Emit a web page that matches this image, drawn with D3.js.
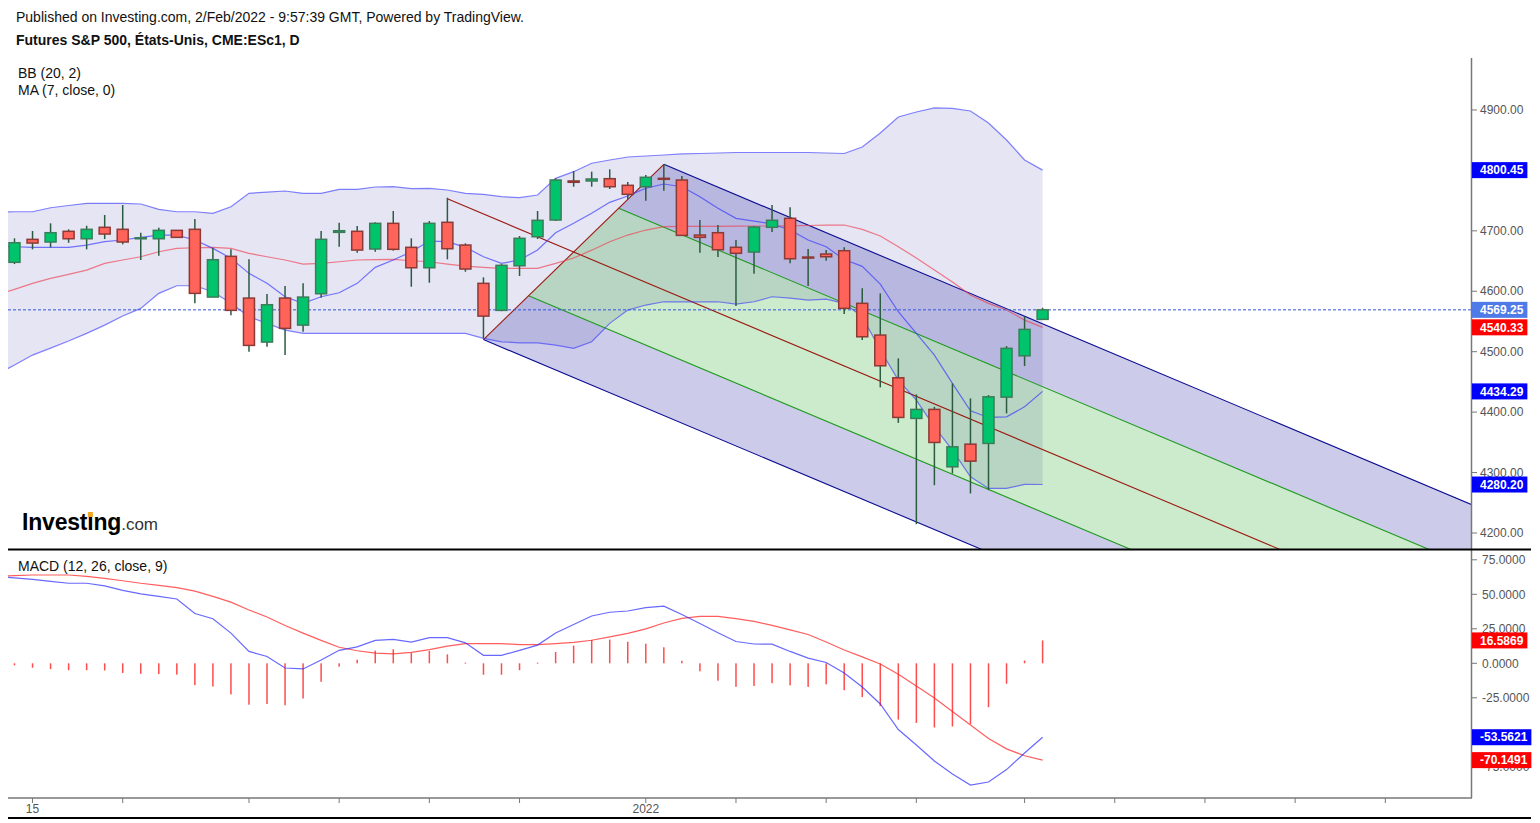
<!DOCTYPE html>
<html>
<head>
<meta charset="utf-8">
<script src="https://cdn.jsdelivr.net/npm/d3@7"></script>
<style>
  body { margin: 0; background: #fff; }
  svg { display: block; font-family: "Liberation Sans", Arial, sans-serif; }
</style>
</head>
<body>
<div id="chart"></div>
<script>
// daily bars, bar 0 = first visible candle
const opens  = [4647.9,4685.9,4681.5,4699.2,4686.9,4705.8,4702.5,4687.5,4686.9,4700.8,4702.5,4590.4,4657.8,4588.7,4515.9,4588.7,4544.0,4595.9,4697.5,4699.2,4669.9,4712.4,4672.7,4638.9,4714.1,4676.5,4613.1,4568.4,4642.2,4690.2,4717.9,4782.5,4782.5,4786.3,4775.3,4773.0,4786.9,4784.1,4693.0,4696.9,4672.7,4664.9,4705.8,4720.7,4656.6,4661.6,4667.1,4580.0,4527.5,4456.8,4389.6,4404.5,4309.5,4347.0,4348.2,4424.8,4493.2,4553.5];
const highs  = [4687.6,4699.7,4712.4,4702.5,4708.4,4726.2,4742.7,4696.9,4705.1,4701.5,4719.5,4672.0,4669.4,4652.8,4595.4,4608.6,4613.1,4699.7,4713.4,4708.0,4714.1,4732.8,4687.6,4716.2,4754.8,4679.3,4623.0,4645.0,4691.4,4732.8,4786.9,4799.0,4797.9,4801.8,4780.8,4792.4,4810.6,4790.7,4717.9,4709.6,4684.8,4708.0,4742.7,4738.9,4669.9,4668.2,4672.7,4604.8,4596.5,4488.9,4429.3,4408.8,4447.5,4422.7,4428.2,4509.3,4557.8,4572.7];
const lows   = [4645.0,4669.4,4672.7,4680.3,4669.4,4686.4,4677.6,4651.7,4658.8,4689.0,4580.0,4590.0,4560.1,4499.8,4508.1,4494.4,4533.0,4589.2,4673.7,4663.7,4665.4,4667.1,4607.5,4614.1,4652.8,4632.3,4522.0,4567.0,4625.2,4686.4,4716.2,4773.0,4773.0,4769.2,4752.2,4749.8,4766.4,4692.0,4663.7,4656.6,4575.5,4629.0,4698.0,4646.2,4608.6,4650.5,4562.3,4519.2,4440.9,4382.3,4214.6,4279.1,4298.5,4265.4,4270.9,4397.9,4476.2,4553.0];
const closes = [4680.3,4679.8,4696.9,4686.9,4702.5,4694.7,4681.5,4688.5,4700.8,4689.2,4596.5,4652.2,4568.4,4510.4,4577.7,4538.6,4590.4,4685.9,4700.2,4668.2,4712.4,4669.4,4638.9,4712.4,4670.4,4636.8,4558.9,4642.9,4687.6,4717.4,4784.1,4780.3,4785.8,4773.0,4760.4,4788.6,4785.3,4692.5,4689.2,4668.7,4662.8,4706.3,4717.4,4653.8,4655.9,4657.1,4571.7,4524.7,4476.7,4391.2,4404.5,4349.8,4342.6,4318.9,4425.3,4505.5,4536.9,4569.25];

// indicator series start one bar before the first candle (partly off the left edge)
const indStart = -1;
const bbUpper = [4731.0,4731.6,4731.6,4738.2,4741.9,4745.5,4745.5,4745.5,4744.4,4735.6,4731.6,4731.6,4729.0,4739.9,4762.1,4764.2,4765.9,4762.1,4762.1,4768.7,4768.7,4772.5,4773.0,4770.0,4770.4,4767.6,4762.1,4760.4,4756.5,4754.8,4759.3,4786.9,4797.9,4811.8,4817.2,4822.2,4823.8,4825.5,4827.2,4828.0,4828.8,4829.6,4829.6,4829.6,4829.6,4829.6,4828.8,4828.0,4838.7,4861.9,4888.4,4896.7,4903.3,4902.5,4898.3,4878.5,4850.3,4817.2,4800.45];
const bbBasis = [4593.7,4603.1,4613.1,4621.4,4628.0,4635.1,4646.2,4651.7,4657.1,4665.4,4671.0,4672.0,4672.7,4671.0,4662.8,4657.1,4651.7,4645.0,4646.2,4648.8,4651.7,4652.2,4652.8,4650.5,4648.8,4645.0,4641.7,4639.6,4637.9,4637.9,4637.9,4646.2,4655.0,4668.0,4682.0,4693.0,4701.3,4707.1,4707.5,4707.5,4707.5,4707.8,4708.0,4708.0,4708.3,4708.8,4709.6,4709.6,4702.5,4691.4,4673.7,4655.0,4635.1,4615.2,4593.7,4580.0,4568.9,4552.3,4540.33];
const bbLower = [4462.0,4478.0,4494.4,4506.0,4517.6,4530.3,4544.0,4559.0,4571.7,4596.5,4609.1,4609.1,4599.2,4580.0,4557.8,4546.9,4535.8,4530.3,4530.3,4530.3,4530.3,4530.3,4530.3,4530.3,4530.3,4530.3,4530.3,4522.0,4516.4,4514.7,4514.7,4510.9,4505.5,4516.4,4546.9,4568.9,4577.2,4582.6,4582.6,4582.6,4582.6,4578.8,4582.6,4590.9,4588.7,4585.4,4587.1,4580.0,4557.8,4502.7,4453.0,4419.9,4375.7,4337.1,4292.9,4273.7,4273.7,4280.3,4280.20];
const ma7 = [4674.0,4673.7,4672.7,4672.7,4672.7,4676.5,4682.0,4684.8,4689.2,4693.0,4693.0,4684.8,4671.0,4654.5,4629.6,4613.1,4590.9,4580.0,4590.9,4597.5,4613.1,4639.6,4651.7,4665.4,4683.1,4682.0,4672.7,4657.1,4646.2,4651.7,4668.2,4696.9,4712.4,4729.0,4747.2,4757.6,4770.4,4777.5,4773.0,4756.5,4737.3,4720.7,4716.2,4711.3,4701.3,4684.8,4673.7,4652.5,4641.2,4611.9,4566.1,4530.3,4494.4,4447.5,4402.2,4391.2,4392.2,4408.8,4434.29];

const macdLine = [62.8,61.9,60.8,59.3,58.0,58.0,56.1,52.8,50.3,48.5,46.6,36.1,32.3,21.9,8.6,4.9,-3.4,-4.1,2.4,9.4,11.9,16.6,17.4,15.3,18.6,18.6,14.8,5.8,5.8,9.4,13.2,22.0,28.1,34.3,37.0,37.9,40.4,41.4,35.4,28.8,22.1,15.8,14.0,13.9,8.6,3.8,0.6,-7.0,-17.2,-29.5,-48.0,-59.2,-70.8,-80.2,-88.2,-86.0,-77.0,-65.0,-53.5621];
const macdSignal = [63.2,63.5,64.0,64.0,64.0,63.0,61.5,59.8,58.0,56.5,54.8,52.3,48.5,44.3,38.6,33.6,27.4,21.9,16.6,11.6,9.1,7.4,6.9,7.9,9.9,12.4,14.3,14.3,14.3,13.6,13.5,14.3,15.1,16.7,19.1,21.7,24.9,29.2,32.6,34.0,34.0,32.4,30.4,27.5,24.2,20.9,15.4,9.6,4.7,-0.5,-8.0,-16.4,-25.1,-34.9,-44.7,-54.5,-62.0,-67.0,-70.1491];
// histogram starts at bar 0
const macdHist = [-1.5,-3.2,-4.2,-5.0,-5.0,-5.2,-7.0,-7.6,-7.8,-8.2,-15.8,-16.8,-22.5,-30.0,-29.5,-30.4,-25.5,-13.4,-2.4,2.6,9.2,10.2,7.5,9.0,6.5,0.5,-8.3,-8.3,-5.0,0.5,8.2,12.8,17.0,17.2,15.6,14.2,11.6,1.8,-5.8,-12.6,-17.0,-16.4,-14.4,-16.0,-17.1,-15.2,-19.5,-24.5,-31.0,-40.8,-43.2,-46.5,-45.8,-44.0,-31.8,-14.8,2.0,16.5869];

const priceTicks = [4200, 4300, 4400, 4500, 4600, 4700, 4800, 4900];
const macdTicks = [75, 50, 25, 0, -25, -50, -75];
// -50 label sits fully under the MACD value badge in the reference, so it gets no text
const macdTickShown = [true, true, true, true, true, false, true];
const xTickBars = [1, 6, 13, 18, 23, 28, 35, 40, 45, 50, 56, 61, 66, 71, 76];
const xTickLabels = ["15", "", "", "", "", "", "2022", "", "", "", "", "", "", "", ""];

// Andrews pitchfork anchors (bar, price)
const pitchforkPts = [{bar: 24, price: 4753}, {bar: 26, price: 4520}, {bar: 36, price: 4810}];

const width = 1540, height = 823;
const plotLeft = 8, plotRight = 1471;
const mainTop = 58, mainBottom = 549;
const macdTop = 551, macdBottom = 798;

const svg = d3.select('#chart').append('svg')
  .attr('width', width)
  .attr('height', height);

const x = d3.scaleLinear().domain([-0.36, 80.75]).range([plotLeft, plotRight]);
const y = d3.scaleLinear().domain([4173.5, 4986]).range([mainBottom, mainTop]);
const ym = d3.scaleLinear().domain([-97.6, 82.1]).range([macdBottom, macdTop - 1]);

const defs = svg.append('defs');
defs.append('clipPath').attr('id', 'clipMain').append('rect')
  .attr('x', plotLeft).attr('y', mainTop).attr('width', plotRight - plotLeft).attr('height', mainBottom - mainTop);
defs.append('clipPath').attr('id', 'clipMacd').append('rect')
  .attr('x', plotLeft).attr('y', macdTop).attr('width', plotRight - plotLeft).attr('height', macdBottom - macdTop);

const main = svg.append('g').attr('clip-path', 'url(#clipMain)');

// Bollinger fill
const bbArea = d3.area()
  .x((d, i) => x(i + indStart))
  .y0((d, i) => y(bbLower[i]))
  .y1(d => y(d));
main.append('path')
  .datum(bbUpper)
  .attr('d', bbArea)
  .attr('fill', 'rgba(40,40,160,0.12)');

// pitchfork, built in pixel space from its three anchors
const [p1, p2, p3] = pitchforkPts.map(p => [x(p.bar), y(p.price)]);
const mid = [(p2[0] + p3[0]) / 2, (p2[1] + p3[1]) / 2];
const dir = [mid[0] - p1[0], mid[1] - p1[1]];
const reach = pt => {
  const t = (plotRight + 40 - pt[0]) / dir[0];
  return [pt[0] + t * dir[0], pt[1] + t * dir[1]];
};
const onBase = f => [p2[0] + f * (p3[0] - p2[0]), p2[1] + f * (p3[1] - p2[1])];

const bands = [
  {f0: 0, f1: 0.25, fill: 'rgba(0,0,150,0.2)'},
  {f0: 0.25, f1: 0.75, fill: 'rgba(0,150,0,0.2)'},
  {f0: 0.75, f1: 1, fill: 'rgba(0,0,150,0.2)'}
];
main.append('g').selectAll('path')
  .data(bands)
  .enter().append('path')
  .attr('d', d => {
    const a = onBase(d.f0), b = onBase(d.f1);
    return 'M' + [a, b, reach(b), reach(a)].map(p => p.join(',')).join('L') + 'Z';
  })
  .attr('fill', d => d.fill);

const forkLines = [
  {from: onBase(0), color: '#0a0a90'},
  {from: onBase(0.25), color: '#1f9a1f'},
  {from: onBase(0.75), color: '#1f9a1f'},
  {from: onBase(1), color: '#0a0a90'},
  {from: p1, color: '#9a1a10'}
];
main.append('g').selectAll('line')
  .data(forkLines)
  .enter().append('line')
  .attr('x1', d => d.from[0]).attr('y1', d => d.from[1])
  .attr('x2', d => reach(d.from)[0]).attr('y2', d => reach(d.from)[1])
  .attr('stroke', d => d.color)
  .attr('stroke-width', 1.1);
main.append('line')
  .attr('x1', p2[0]).attr('y1', p2[1]).attr('x2', p3[0]).attr('y2', p3[1])
  .attr('stroke', '#9a1a10').attr('stroke-width', 1.1);

// indicator lines
const indLine = d3.line().x((d, i) => x(i + indStart)).y(d => y(d));
[
  {data: bbUpper, color: 'rgba(50,50,255,0.6)'},
  {data: bbLower, color: 'rgba(50,50,255,0.6)'},
  {data: bbBasis, color: 'rgba(240,60,80,0.65)'},
  {data: ma7, color: 'rgba(50,50,255,0.65)'}
].forEach(s => {
  main.append('path')
    .datum(s.data)
    .attr('d', indLine)
    .attr('fill', 'none')
    .attr('stroke', s.color)
    .attr('stroke-width', 1.2);
});

// last price line
main.append('line')
  .attr('x1', plotLeft).attr('x2', plotRight)
  .attr('y1', y(closes[closes.length - 1])).attr('y2', y(closes[closes.length - 1]))
  .attr('stroke', '#3355dd')
  .attr('stroke-dasharray', '3,2')
  .attr('stroke-width', 1);

// candles
const bars = d3.range(opens.length).map(i => ({i, o: opens[i], h: highs[i], l: lows[i], c: closes[i]}));
const candle = main.append('g').selectAll('.candle')
  .data(bars)
  .enter().append('g')
  .attr('class', 'candle');

candle.append('line')
  .attr('x1', d => x(d.i)).attr('x2', d => x(d.i))
  .attr('y1', d => y(d.h)).attr('y2', d => y(d.l))
  .attr('stroke', '#2b5c40')
  .attr('stroke-width', 1.5);

candle.append('rect')
  .attr('x', d => x(d.i) - 5.5)
  .attr('width', 11)
  .attr('y', d => y(Math.max(d.o, d.c)))
  .attr('height', d => Math.max(1, Math.abs(y(d.o) - y(d.c))))
  .attr('fill', d => d.c >= d.o ? '#00c46b' : '#ff6359')
  .attr('stroke', d => d.c >= d.o ? '#3b7d5a' : '#8c3a35')
  .attr('stroke-width', 1.5);

// MACD pane
const macdG = svg.append('g').attr('clip-path', 'url(#clipMacd)');
macdG.append('g').selectAll('rect')
  .data(macdHist)
  .enter().append('rect')
  .attr('x', (d, i) => x(i) - 0.75)
  .attr('width', 1.5)
  .attr('y', d => Math.min(ym(d), ym(0)))
  .attr('height', d => Math.max(1, Math.abs(ym(d) - ym(0))))
  .attr('fill', '#ff4d4d');

const macdPath = d3.line().x((d, i) => x(i + indStart)).y(d => ym(d));
macdG.append('path').datum(macdSignal).attr('d', macdPath)
  .attr('fill', 'none').attr('stroke', 'rgba(255,40,40,0.75)').attr('stroke-width', 1.2);
macdG.append('path').datum(macdLine).attr('d', macdPath)
  .attr('fill', 'none').attr('stroke', 'rgba(40,40,255,0.7)').attr('stroke-width', 1.2);

// axes
const axisColor = '#777';
svg.append('line')
  .attr('x1', plotRight + 0.5).attr('x2', plotRight + 0.5)
  .attr('y1', mainTop).attr('y2', macdBottom)
  .attr('stroke', axisColor).attr('stroke-width', 1.5);
svg.append('line')
  .attr('x1', plotLeft).attr('x2', plotRight + 1)
  .attr('y1', macdBottom).attr('y2', macdBottom)
  .attr('stroke', axisColor).attr('stroke-width', 1.5);

const priceAxis = svg.append('g').selectAll('g')
  .data(priceTicks)
  .enter().append('g')
  .attr('transform', d => `translate(0,${y(d)})`);
priceAxis.append('line')
  .attr('x1', plotRight + 1).attr('x2', plotRight + 6)
  .attr('stroke', axisColor);
priceAxis.append('text')
  .attr('x', 1480).attr('dy', '0.35em')
  .attr('font-size', 12).attr('fill', '#555')
  .text(d => d.toFixed(2));

const macdAxis = svg.append('g').selectAll('g')
  .data(macdTicks)
  .enter().append('g')
  .attr('transform', d => `translate(0,${ym(d)})`);
macdAxis.append('line')
  .attr('x1', plotRight + 1).attr('x2', plotRight + 6)
  .attr('stroke', axisColor);
macdAxis.filter((d, i) => macdTickShown[i]).append('text')
  .attr('x', 1482).attr('dy', '0.35em')
  .attr('font-size', 12).attr('fill', '#555')
  .text(d => d.toFixed(4));

const timeAxis = svg.append('g').selectAll('g')
  .data(xTickBars)
  .enter().append('g')
  .attr('transform', d => `translate(${x(d)},0)`);
timeAxis.append('line')
  .attr('y1', macdBottom).attr('y2', macdBottom + 5)
  .attr('stroke', axisColor);
timeAxis.append('text')
  .attr('y', macdBottom + 15)
  .attr('text-anchor', 'middle')
  .attr('font-size', 12).attr('fill', '#555')
  .text((d, i) => xTickLabels[i]);

// value badges on the right scale
function badge(yPos, label, color) {
  const g = svg.append('g').attr('transform', `translate(0,${yPos})`);
  const t = g.append('text')
    .attr('x', 1480).attr('dy', '0.35em')
    .attr('font-size', 12).attr('font-weight', 'bold').attr('fill', '#fff')
    .text(label);
  const w = t.node().getComputedTextLength();
  g.insert('rect', 'text')
    .attr('x', plotRight + 1).attr('y', -8)
    .attr('width', 1480 - plotRight - 1 + w + 4).attr('height', 16)
    .attr('fill', color);
}
const last = a => a[a.length - 1];
badge(y(last(bbUpper)), last(bbUpper).toFixed(2), '#0000ff');
badge(y(last(closes)), last(closes).toFixed(2), '#4f7be8');
badge(y(last(bbBasis)), last(bbBasis).toFixed(2), '#ff0000');
badge(y(last(ma7)), last(ma7).toFixed(2), '#0000ff');
badge(y(last(bbLower)), last(bbLower).toFixed(2), '#0000ff');
badge(ym(last(macdHist)), last(macdHist).toFixed(4), '#ff0000');
badge(ym(last(macdLine)), last(macdLine).toFixed(4), '#0000ff');
badge(ym(last(macdSignal)), last(macdSignal).toFixed(4), '#ff0000');

// pane separators
svg.append('line')
  .attr('x1', plotLeft).attr('x2', 1531)
  .attr('y1', mainBottom + 0.5).attr('y2', mainBottom + 0.5)
  .attr('stroke', '#000').attr('stroke-width', 2);
svg.append('line')
  .attr('x1', plotLeft).attr('x2', 1531)
  .attr('y1', 818).attr('y2', 818)
  .attr('stroke', '#000').attr('stroke-width', 2);

// header texts
svg.append('text').attr('x', 16).attr('y', 22)
  .attr('font-size', 14).attr('fill', '#111')
  .text('Published on Investing.com, 2/Feb/2022 - 9:57:39 GMT, Powered by TradingView.');
svg.append('text').attr('x', 16).attr('y', 45)
  .attr('font-size', 14).attr('font-weight', 'bold').attr('fill', '#111')
  .text('Futures S&P 500, États-Unis, CME:ESc1, D');
svg.append('text').attr('x', 18).attr('y', 78)
  .attr('font-size', 14).attr('fill', '#111').text('BB (20, 2)');
svg.append('text').attr('x', 18).attr('y', 95)
  .attr('font-size', 14).attr('fill', '#111').text('MA (7, close, 0)');
svg.append('text').attr('x', 18).attr('y', 571)
  .attr('font-size', 14).attr('fill', '#111').text('MACD (12, 26, close, 9)');

// Investing.com logo
const logo = svg.append('text').attr('x', 22).attr('y', 530);
logo.append('tspan')
  .attr('font-size', 23).attr('font-weight', 'bold').attr('fill', '#000')
  .attr('letter-spacing', -0.2)
  .text('Investing');
logo.append('tspan')
  .attr('font-size', 17).attr('fill', '#333')
  .text('.com');
const dotBox = logo.node().getExtentOfChar(6);
svg.append('rect')
  .attr('x', dotBox.x + dotBox.width / 2 - 2.5)
  .attr('y', 512)
  .attr('width', 5).attr('height', 5)
  .attr('fill', '#f5a623');
</script>
</body>
</html>
